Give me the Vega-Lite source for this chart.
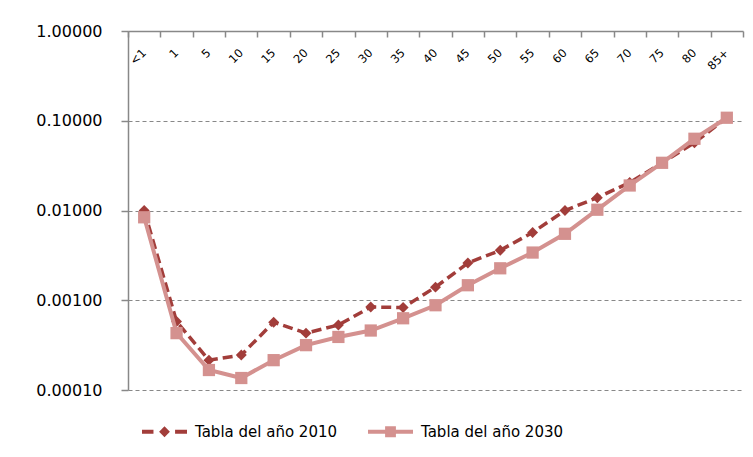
{
  "$schema": "https://vega.github.io/schema/vega-lite/v6.json",
  "width": 615,
  "height": 359,
  "autosize": {"type": "none"},
  "padding": {"left": 128, "top": 31, "right": 10, "bottom": 67},
  "background": "#ffffff",
  "config": {"view": {"stroke": null}},
  "data": {
    "values": [
      {"age": "<1", "serie": "Tabla del año 2010", "value": 0.0100},
      {"age": "1", "serie": "Tabla del año 2010", "value": 0.00058},
      {"age": "5", "serie": "Tabla del año 2010", "value": 0.000215},
      {"age": "10", "serie": "Tabla del año 2010", "value": 0.000245},
      {"age": "15", "serie": "Tabla del año 2010", "value": 0.00057},
      {"age": "20", "serie": "Tabla del año 2010", "value": 0.00043},
      {"age": "25", "serie": "Tabla del año 2010", "value": 0.00053},
      {"age": "30", "serie": "Tabla del año 2010", "value": 0.00084},
      {"age": "35", "serie": "Tabla del año 2010", "value": 0.00083},
      {"age": "40", "serie": "Tabla del año 2010", "value": 0.0014},
      {"age": "45", "serie": "Tabla del año 2010", "value": 0.0026},
      {"age": "50", "serie": "Tabla del año 2010", "value": 0.0036},
      {"age": "55", "serie": "Tabla del año 2010", "value": 0.0057},
      {"age": "60", "serie": "Tabla del año 2010", "value": 0.0100},
      {"age": "65", "serie": "Tabla del año 2010", "value": 0.0139},
      {"age": "70", "serie": "Tabla del año 2010", "value": 0.0205},
      {"age": "75", "serie": "Tabla del año 2010", "value": 0.034},
      {"age": "80", "serie": "Tabla del año 2010", "value": 0.057},
      {"age": "85+", "serie": "Tabla del año 2010", "value": 0.108},
      {"age": "<1", "serie": "Tabla del año 2030", "value": 0.0084},
      {"age": "1", "serie": "Tabla del año 2030", "value": 0.00043},
      {"age": "5", "serie": "Tabla del año 2030", "value": 0.000167},
      {"age": "10", "serie": "Tabla del año 2030", "value": 0.000136},
      {"age": "15", "serie": "Tabla del año 2030", "value": 0.000215},
      {"age": "20", "serie": "Tabla del año 2030", "value": 0.000316},
      {"age": "25", "serie": "Tabla del año 2030", "value": 0.00039},
      {"age": "30", "serie": "Tabla del año 2030", "value": 0.00046},
      {"age": "35", "serie": "Tabla del año 2030", "value": 0.00063},
      {"age": "40", "serie": "Tabla del año 2030", "value": 0.00088},
      {"age": "45", "serie": "Tabla del año 2030", "value": 0.00147},
      {"age": "50", "serie": "Tabla del año 2030", "value": 0.00227},
      {"age": "55", "serie": "Tabla del año 2030", "value": 0.0034},
      {"age": "60", "serie": "Tabla del año 2030", "value": 0.0055},
      {"age": "65", "serie": "Tabla del año 2030", "value": 0.0102},
      {"age": "70", "serie": "Tabla del año 2030", "value": 0.019},
      {"age": "75", "serie": "Tabla del año 2030", "value": 0.034},
      {"age": "80", "serie": "Tabla del año 2030", "value": 0.063},
      {"age": "85+", "serie": "Tabla del año 2030", "value": 0.108}
    ]
  },
  "encoding": {
    "x": {
      "field": "age",
      "type": "nominal",
      "sort": null,
      "bandPosition": 0.5,
      "scale": {
        "type": "band",
        "domain": ["<1", "1", "5", "10", "15", "20", "25", "30", "35", "40", "45", "50", "55", "60", "65", "70", "75", "80", "85+"],
        "paddingInner": 0,
        "paddingOuter": 0
      },
      "axis": {
        "orient": "top",
        "title": null,
        "grid": false,
        "tickBand": "extent",
        "tickSize": -6,
        "tickColor": "#888888",
        "tickWidth": 1.5,
        "domainColor": "#888888",
        "domainWidth": 1.5,
        "labelAngle": -45,
        "labelAlign": "right",
        "labelBaseline": "middle",
        "labelPadding": -14,
        "labelFont": "DejaVu Sans",
        "labelFontSize": 11.5,
        "labelColor": "#000000"
      }
    },
    "y": {
      "field": "value",
      "type": "quantitative",
      "scale": {"type": "log", "domain": [0.0001, 1], "nice": false},
      "axis": {
        "title": null,
        "values": [0.0001, 0.001, 0.01, 0.1, 1],
        "format": ".5f",
        "grid": true,
        "gridColor": "#888888",
        "gridDash": [4, 3],
        "gridWidth": 1.2,
        "tickSize": 7,
        "tickColor": "#888888",
        "tickWidth": 1.5,
        "domainColor": "#888888",
        "domainWidth": 1.5,
        "labelPadding": 19,
        "labelFont": "DejaVu Sans",
        "labelFontSize": 16,
        "labelColor": "#000000"
      }
    }
  },
  "layer": [
    {
      "transform": [{"filter": "datum.serie === 'Tabla del año 2010'"}],
      "mark": {"type": "line", "color": "#A23D3A", "strokeWidth": 3.5, "strokeDash": [10, 5]}
    },
    {
      "transform": [{"filter": "datum.serie === 'Tabla del año 2010'"}],
      "mark": {"type": "point", "shape": "diamond", "filled": true, "opacity": 1, "size": 120, "color": "#A23D3A"}
    },
    {
      "transform": [{"filter": "datum.serie === 'Tabla del año 2030'"}],
      "mark": {"type": "line", "color": "#D4918F", "strokeWidth": 4}
    },
    {
      "transform": [{"filter": "datum.serie === 'Tabla del año 2030'"}],
      "mark": {"type": "point", "shape": "square", "filled": true, "opacity": 1, "size": 150, "color": "#D4918F"}
    },
    {
      "transform": [{"filter": "false"}],
      "mark": {"type": "point", "filled": true, "opacity": 1},
      "encoding": {
        "color": {
          "field": "serie",
          "type": "nominal",
          "scale": {"domain": ["Tabla del año 2010", "Tabla del año 2030"], "range": ["#A23D3A", "#D4918F"]},
          "legend": {
            "title": null,
            "orient": "none",
            "legendX": 14,
            "legendY": 378,
            "direction": "horizontal",
            "symbolSize": 2025,
            "symbolStrokeWidth": 0,
            "labelOffset": 8,
            "columnPadding": 30,
            "labelFont": "DejaVu Sans",
            "labelFontSize": 15,
            "labelColor": "#000000"
          }
        },
        "shape": {
          "field": "serie",
          "type": "nominal",
          "scale": {
            "domain": ["Tabla del año 2010", "Tabla del año 2030"],
            "range": [
              "M-1,-0.09H-0.49V0.09H-1Z M-0.24,0L0,-0.24L0.24,0L0,0.24Z M0.47,-0.09H1V0.09H0.47Z",
              "M-1,-0.09H1V0.09H-1Z M-0.24,-0.24H0.24V0.24H-0.24Z"
            ]
          },
          "legend": {
            "title": null,
            "orient": "none",
            "legendX": 14,
            "legendY": 378,
            "direction": "horizontal",
            "symbolSize": 2025,
            "symbolStrokeWidth": 0,
            "labelOffset": 8,
            "columnPadding": 30,
            "labelFont": "DejaVu Sans",
            "labelFontSize": 15,
            "labelColor": "#000000"
          }
        }
      }
    }
  ]
}
